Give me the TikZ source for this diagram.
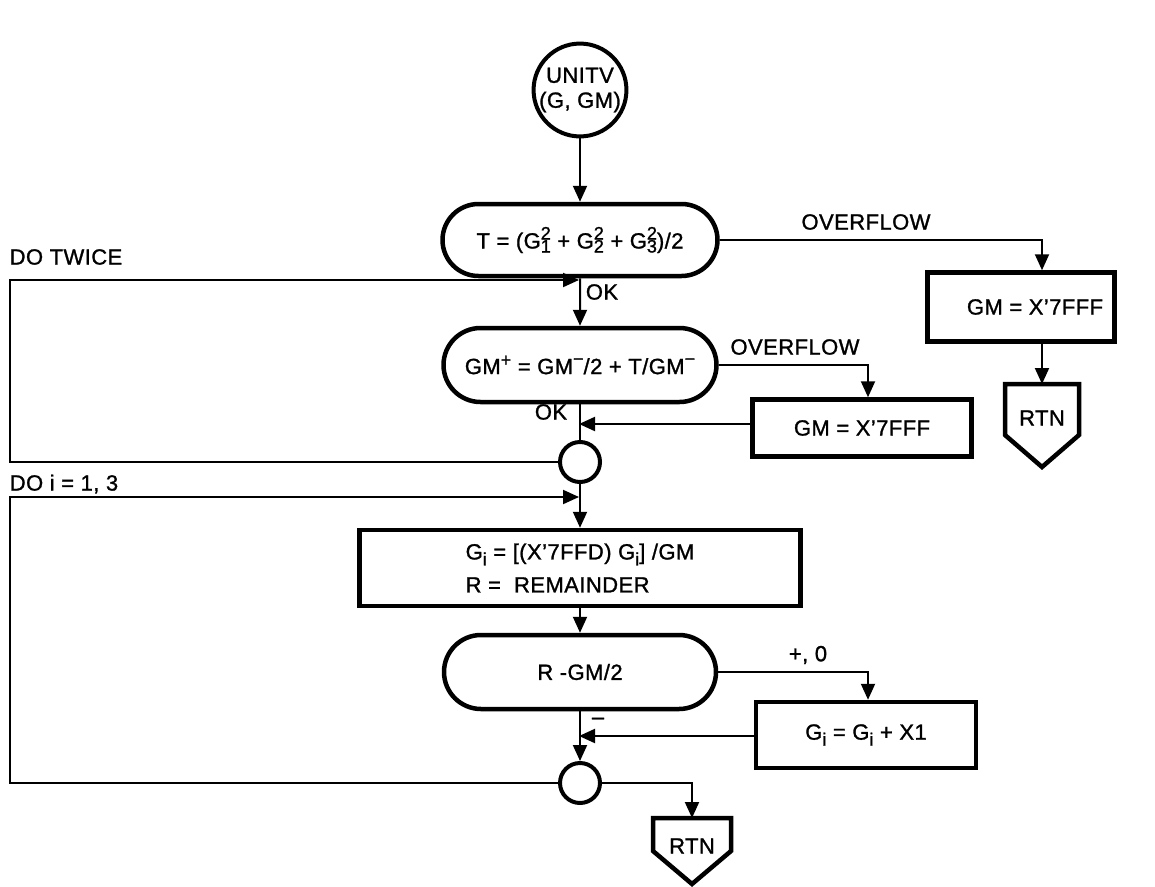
\documentclass[tikz,border=0pt]{standalone}
\usepackage{fontspec}
\setmainfont{Liberation Sans}[LetterSpace=2,FakeBold=1.2]
\usetikzlibrary{arrows.meta,shapes.misc,calc}

% small figures for indices and exponents
\newcommand{\smallfig}{\fontsize{18}{18}\selectfont}
\newcommand{\gsq}[1]{G\rlap{\raisebox{9pt}{\smallfig 2}}\raisebox{-4pt}{\smallfig #1}}
\newcommand{\gsub}{G\raisebox{-6pt}{\smallfig i}}
\newcommand{\supplus}{\raisebox{8pt}{\smallfig +}}
\newcommand{\supminus}{\raisebox{9pt}{\smallfig −}}

\tikzset{
  flow/.style={line width=2pt, -{Triangle[length=16pt,width=14pt]}},
  link/.style={line width=2pt},
  box/.style={draw, line width=4.5pt, rectangle, inner sep=0pt},
  term/.style={draw, line width=4.5pt, rounded rectangle, inner sep=0pt},
  junction/.style={draw, line width=4pt, circle, minimum size=40pt, inner sep=0pt},
  lbl/.style={inner sep=0pt},
  every node/.style={font=\fontsize{22}{33}\selectfont},
}

\begin{document}
\begin{tikzpicture}[x=1pt,y=-1pt]
\useasboundingbox (0,0) rectangle (1155,886);

% ---- entry and square sum
\node[draw, circle, line width=4pt, minimum size=90pt, inner sep=0pt, align=center] (start) at (580,90) {UNITV\\[-8pt](G, GM)};
\node[term, minimum width=275pt, minimum height=72pt] (T) at (580,240) {T = (\gsq{1} + \gsq{2} + \gsq{3})/2};
\draw[flow] (start) -- (T);

% overflow exit of the square sum
\coordinate (xa) at (1042,0);
\node[lbl] (ovf1) at (866,222) {OVERFLOW};
\node[box, minimum width=187pt, minimum height=69pt] (gm1) at (1021,307) {\hspace*{28pt}GM = X’7FFF};
\coordinate (rtn1top) at (1042,384);
\node[lbl] (rtn1) at (1042,418) {RTN};
\draw[line width=4.5pt, line join=miter] (rtn1top -| 1005,0) -- (rtn1top -| 1079,0) -- ($(rtn1top)+(37,51)$) -- ($(rtn1top)+(0,83)$) -- ($(rtn1top)+(-37,51)$) -- cycle;
\draw[flow] (T.east) -| (xa |- gm1.north);
\draw[flow] (xa |- gm1.south) -- (rtn1top);

% ---- Newton step, done twice
\coordinate (lft) at (10,0);
\coordinate (m1) at (579,280);
\node[lbl] (dotwice) at (66,257) {DO TWICE};
\node[lbl] (ok1) at (602,292) {OK};
\node[term, minimum width=273pt, minimum height=74pt] (gmp) at (580,365) {GM\supplus{} = GM\supminus/2 + T/GM\supminus};
\draw[flow] (T) -- (gmp);

\coordinate (xb) at (868,0);
\node[lbl] (ovf2) at (795,347) {OVERFLOW};
\node[box, minimum width=219pt, minimum height=57pt] (gm2) at (862,428) {GM = X’7FFF};
\draw[flow] (gmp.east) -| (xb |- gm2.north);

\node[lbl] (ok2) at (551,412) {OK};
\node[junction] (j1) at (580,462) {};
\coordinate (m2) at (579,424);
\draw[link] (gmp) -- (j1);
\draw[flow] (gm2.west |- m2) -- (m2);
\draw[flow] (j1.west) -| (lft |- m1) -- (m1);

% ---- scaling of the components, done for i = 1, 3
\coordinate (m3) at (579,497);
\node[lbl] (doi) at (64,484) {DO i = 1, 3};
\node[box, minimum width=441pt, minimum height=76pt, align=left] (gi) at (580,568) {\gsub{} = [(X’7FFD) \gsub] /GM\\R =\ \ REMAINDER};
\draw[flow] (j1) -- (gi);

\node[term, minimum width=272pt, minimum height=74pt] (rr) at (580,672) {R -GM/2};
\draw[flow] (gi) -- (rr);

\node[lbl] (pz) at (808,655) {+, 0};
\node[box, minimum width=220pt, minimum height=66pt] (gadd) at (866,735) {\gsub{} = \gsub{} + X1};
\draw[flow] (rr.east) -| (xb |- gadd.north);

\node[lbl] (neg) at (598,721) {–};
\node[junction] (j2) at (580,783) {};
\coordinate (m4) at (579,736);
\draw[flow] (rr) -- (j2);
\draw[flow] (gadd.west |- m4) -- (m4);
\draw[flow] (j2.west) -| (lft |- m3) -- (m3);

% ---- normal return
\coordinate (rtn2top) at (692,818);
\node[lbl] (rtn2) at (692,846) {RTN};
\draw[line width=4.5pt, line join=miter] (rtn2top -| 653,0) -- (rtn2top -| 731,0) -- ($(rtn2top)+(39,33)$) -- ($(rtn2top)+(0,66)$) -- ($(rtn2top)+(-39,33)$) -- cycle;
\draw[flow] (j2.east) -| (rtn2top);
\end{tikzpicture}
\end{document}
